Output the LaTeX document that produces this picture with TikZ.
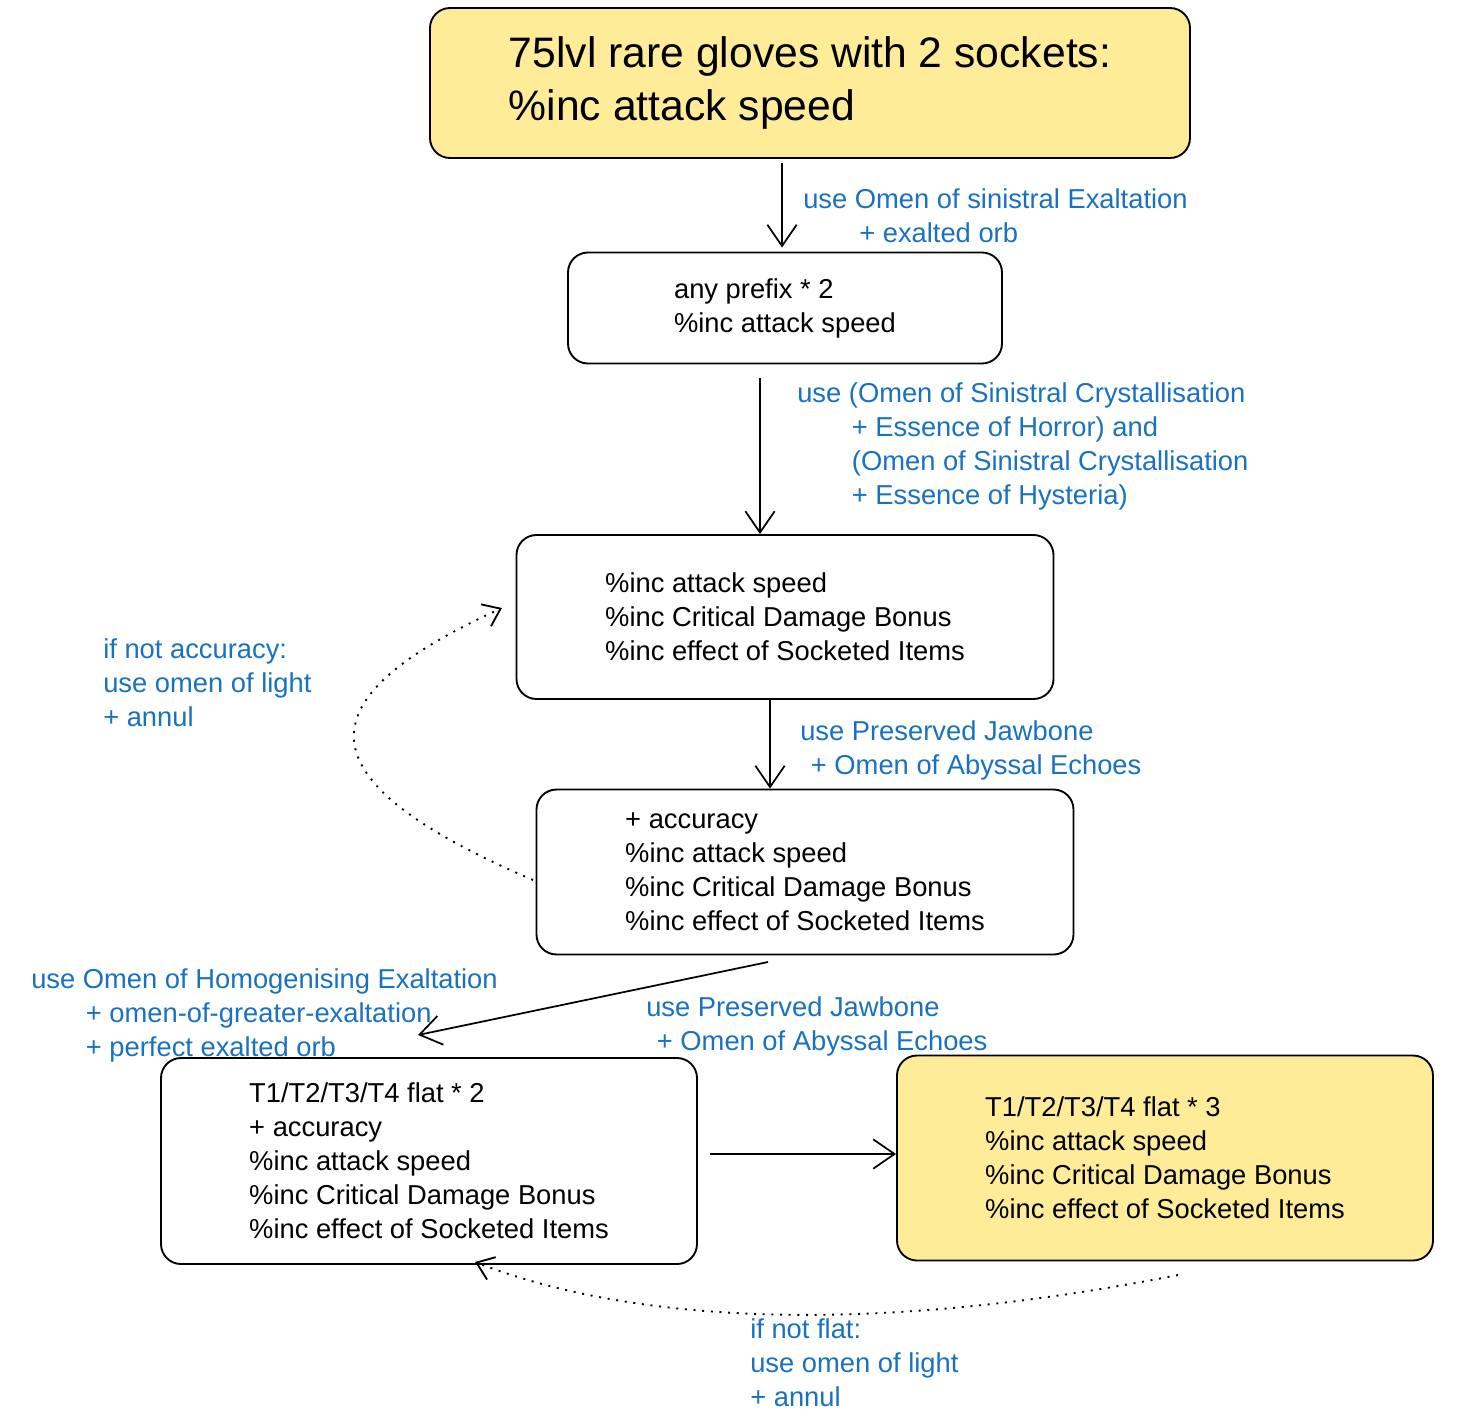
\documentclass[tikz,border=0pt]{standalone}
\usepackage{fontspec}
\setmainfont{Liberation Sans}
\usetikzlibrary{arrows.meta}
\definecolor{ylw}{HTML}{FFEC99}
\definecolor{lbl}{HTML}{1971C2}
\begin{document}
\begin{tikzpicture}[x=0.75pt,y=-0.75pt,
 box/.style={draw=black,line width=1.4pt,rounded corners=15pt,align=left,inner sep=0pt,
   font=\fontsize{20.5}{25.5}\selectfont},
 lab/.style={text=lbl,align=left,anchor=north west,inner sep=0pt,font=\fontsize{20.5}{25.5}\selectfont},
 arr/.style={-{Straight Barb[length=16pt,width=22pt]},line width=1.3pt},
 dot/.style={-{Straight Barb[length=12pt,width=18pt]},line width=1.4pt,dash pattern=on 1.5pt off 5pt}]
\useasboundingbox (0,0) rectangle (1468,1418);
\node[box,fill=ylw,minimum width=0.75*760pt,minimum height=0.75*150pt,font=\fontsize{32}{40}\selectfont] (t) at (810,83)
 {75lvl rare gloves with 2 sockets:\\ \%inc attack speed};
\node[box,minimum width=0.75*434pt,minimum height=0.75*111pt] (a) at (785,308)
 {any prefix * 2\\\%inc attack speed};
\node[box,minimum width=0.75*537pt,minimum height=0.75*164pt] (b) at (785,617)
 {\%inc attack speed\\\%inc Critical Damage Bonus\\\%inc effect of Socketed Items};
\node[box,minimum width=0.75*537pt,minimum height=0.75*165pt] (c) at (805,872)
 {+ accuracy\\\%inc attack speed\\\%inc Critical Damage Bonus\\\%inc effect of Socketed Items};
\node[box,minimum width=0.75*536pt,minimum height=0.75*206pt] (d) at (429,1161)
 {T1/T2/T3/T4 flat * 2\\+ accuracy\\\%inc attack speed\\\%inc Critical Damage Bonus\\\%inc effect of Socketed Items};
\node[box,fill=ylw,minimum width=0.75*536pt,minimum height=0.75*205pt] (e) at (1165,1158)
 {T1/T2/T3/T4 flat * 3\\\%inc attack speed\\\%inc Critical Damage Bonus\\\%inc effect of Socketed Items};
\draw[arr] ([yshift=-3pt]t.south -| 782,0) -- ([yshift=3pt]a.north -| 782,0);
\draw[arr] ([yshift=-10pt]a.south -| 760,0) -- (b.north -| 760,0);
\draw[arr] (b.south -| 770,0) -- (c.north -| 770,0);
\coordinate (cb) at (768,962);
\coordinate (dt) at (418,1035);
\draw[arr] (cb) -- (dt);
\coordinate (ds) at (710,1154);
\draw[arr] (ds) -- (e.west |- ds);
\coordinate (c1) at (533,880);
\coordinate (b1) at (502,608);
\draw[dot] (c1) .. controls (300,780) and (300,700) .. (b1);
\coordinate (e1) at (1178,1275);
\coordinate (d1) at (475,1262);
\draw[dot] (e1) .. controls (900,1330) and (650,1330) .. (d1);
\node[lab] (l1) at (803,188) {use Omen of sinistral Exaltation\\\hspace*{42pt}+ exalted orb};
\node[lab] (l2) at (797,382) {use (Omen of Sinistral Crystallisation\\\hspace*{41pt}+ Essence of Horror) and\\\hspace*{41pt}(Omen of Sinistral Crystallisation\\\hspace*{41pt}+ Essence of Hysteria)};
\node[lab] (l3) at (800,720) {use Preserved Jawbone\\\hspace*{8pt}+ Omen of Abyssal Echoes};
\node[lab] (l4) at (31,968) {use Omen of Homogenising Exaltation\\\hspace*{41pt}+ omen-of-greater-exaltation\\\hspace*{41pt}+ perfect exalted orb};
\node[lab] (l5) at (646,996) {use Preserved Jawbone\\\hspace*{8pt}+ Omen of Abyssal Echoes};
\node[lab] (l6) at (103,638) {if not accuracy:\\use omen of light\\+ annul};
\node[lab] (l7) at (750,1318) {if not flat:\\use omen of light\\+ annul};
\end{tikzpicture}
\end{document}
